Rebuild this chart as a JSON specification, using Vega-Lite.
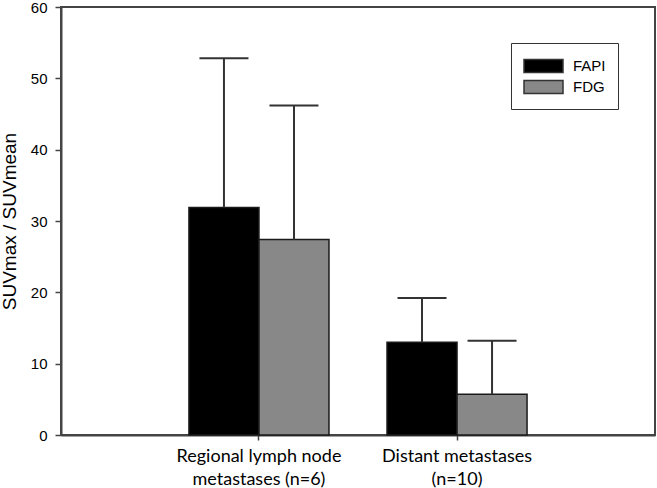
{
  "$schema": "https://vega.github.io/schema/vega-lite/v6.json",
  "autosize": {"type": "none"},
  "padding": {"left": 61, "top": 7, "right": 2, "bottom": 53},
  "width": 594,
  "height": 428,
  "background": "white",
  "config": {
    "view": {"stroke": "#444", "strokeWidth": 2},
    "axis": {"grid": false, "domainColor": "#444", "domainWidth": 2, "tickColor": "#444", "tickWidth": 1.5, "labelColor": "#000", "titleColor": "#000"}
  },
  "data": {
    "values": [
      {"group": "Regional lymph node metastases (n=6)", "modality": "FAPI", "mean": 31.9, "upper": 52.8},
      {"group": "Regional lymph node metastases (n=6)", "modality": "FDG", "mean": 27.4, "upper": 46.2},
      {"group": "Distant metastases (n=10)", "modality": "FAPI", "mean": 13.0, "upper": 19.2},
      {"group": "Distant metastases (n=10)", "modality": "FDG", "mean": 5.7, "upper": 13.2}
    ]
  },
  "encoding": {
    "x": {
      "field": "group", "type": "nominal", "sort": null,
      "scale": {"paddingInner": 0.293, "paddingOuter": 0.646},
      "axis": {
        "title": null, "labelAngle": 0, "tickSize": 5, "labelPadding": 7,
        "labelFont": "Lato", "labelFontSize": 18, "labelLineHeight": 23,
        "labelExpr": "datum.value == 'Regional lymph node metastases (n=6)' ? ['Regional lymph node', 'metastases (n=6)'] : ['Distant metastases', '(n=10)']"
      }
    },
    "xOffset": {"field": "modality", "type": "nominal", "scale": {"paddingInner": 0, "paddingOuter": 0}}
  },
  "layer": [
    {
      "mark": {"type": "bar", "stroke": "#1a1a1a", "strokeWidth": 1.5, "opacity": 1},
      "encoding": {
        "y": {
          "field": "mean", "type": "quantitative",
          "scale": {"domain": [0, 60], "nice": false},
          "axis": {
            "title": "SUVmax / SUVmean", "values": [0, 10, 20, 30, 40, 50, 60],
            "tickSize": 6, "labelPadding": 8, "labelFont": "Liberation Sans", "labelFontSize": 15,
            "titleFont": "Liberation Sans", "titleFontSize": 19, "titleFontWeight": "normal", "titlePadding": 11
          }
        },
        "fill": {
          "field": "modality", "type": "nominal",
          "scale": {"domain": ["FAPI", "FDG"], "range": ["#000000", "#888888"]},
          "legend": {
            "title": null, "orient": "none", "legendX": 450, "legendY": 36,
            "direction": "vertical",
            "strokeColor": "#333", "fillColor": "white", "padding": 12,
            "symbolType": "M-1,-0.65H2.9V0.65H-1Z", "symbolSize": 400,
            "symbolStrokeColor": "#333", "symbolStrokeWidth": 1.5, "symbolOpacity": 1,
            "labelFont": "Liberation Sans", "labelFontSize": 15, "labelColor": "#000", "labelOffset": 28,
            "rowPadding": 0
          }
        }
      }
    },
    {
      "mark": {"type": "rule", "color": "#333", "strokeWidth": 2},
      "encoding": {
        "y": {"field": "mean", "type": "quantitative"},
        "y2": {"field": "upper"}
      }
    },
    {
      "mark": {"type": "tick", "color": "#333", "thickness": 2, "size": 49, "opacity": 1},
      "encoding": {
        "y": {"field": "upper", "type": "quantitative"}
      }
    }
  ]
}
